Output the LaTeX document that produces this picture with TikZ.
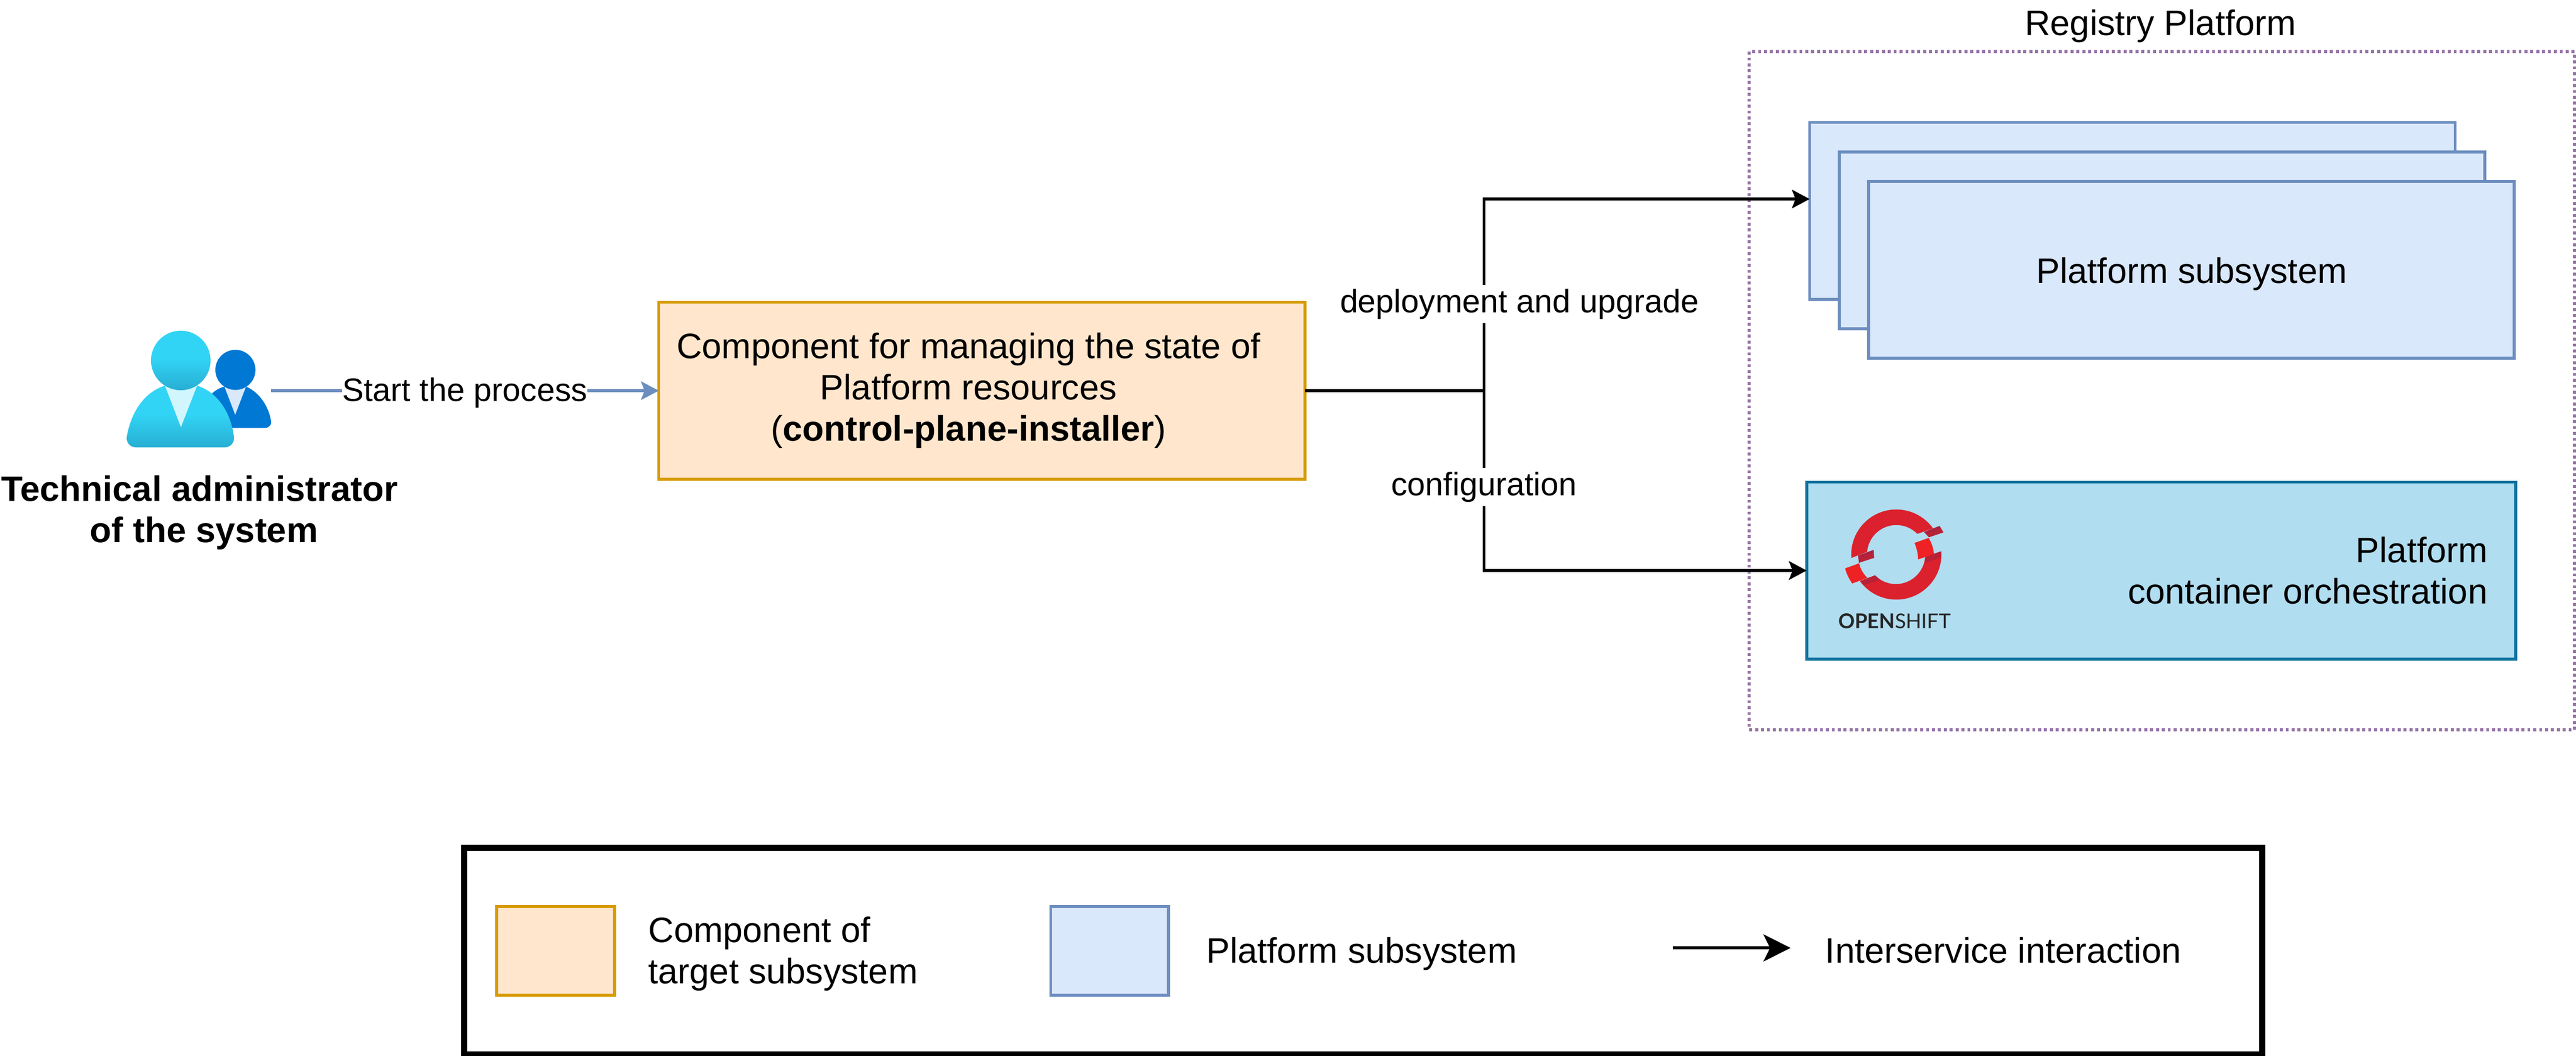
\documentclass[tikz,border=0pt]{standalone}
\usepackage{fontspec}
\setmainfont{Liberation Sans}
\newfontfamily\logofont{Lato}
\usetikzlibrary{arrows.meta}

\definecolor{planefill}{HTML}{FFE6CC}
\definecolor{planeline}{HTML}{D79B00}
\definecolor{subsysfill}{HTML}{DAE8FC}
\definecolor{subsysline}{HTML}{6C8EBF}
\definecolor{orchfill}{HTML}{B1DDF0}
\definecolor{orchline}{HTML}{10739E}
\definecolor{registryline}{HTML}{9673A6}
\definecolor{iconlight}{HTML}{32D4F5}
\definecolor{icondark}{HTML}{27AED3}
\definecolor{iconblue}{HTML}{0078D4}
\definecolor{ringred}{HTML}{DB212E}
\definecolor{ringbright}{HTML}{EE2225}
\definecolor{ringband}{HTML}{B92236}
\definecolor{ringdark}{HTML}{A9233F}
\pgfdeclareverticalshading{iconfade}{100bp}{color(0bp)=(icondark); color(25bp)=(icondark); color(52bp)=(iconlight); color(100bp)=(iconlight)}

\tikzset{
  every node/.style={font=\fontsize{9}{10.5}\selectfont,inner sep=0pt,outer sep=0pt},
  planebox/.style={draw=planeline,fill=planefill,line width=0.75pt},
  subsysbox/.style={draw=subsysline,fill=subsysfill,line width=0.75pt,minimum width=164.25pt,minimum height=45pt},
  orchbox/.style={draw=orchline,fill=orchfill,line width=0.75pt,minimum width=180.4pt,minimum height=45pt},
  keybox/.style={line width=0.75pt,minimum width=30pt,minimum height=22.5pt},
  flowline/.style={line width=0.75pt,-{Stealth[length=4.5pt,width=4.7pt,inset=0.9pt]}},
  flowlabel/.style={fill=white,minimum height=9.75pt,anchor=base,font=\fontsize{8.25}{10}\selectfont},
}

\begin{document}
\begin{tikzpicture}[x=0.75pt,y=0.75pt,yscale=-1,xscale=1]
\useasboundingbox (0,0) rectangle (874,358);

% Registry frame
\node [draw=registryline,line width=0.75pt,dash pattern=on 0.75pt off 0.75pt,minimum width=210pt,minimum height=172.5pt] (registry) at (733.5,132.5) {};
\node [anchor=base] (registrytitle) at (733,12) {Registry Platform};

% Subsystem stack
\node [subsysbox] (subsysback) at (723.5,71.5) {};
\node [subsysbox] (subsysmid) at (733.5,81.5) {};
\node [subsysbox] (subsysfront) at (743.5,91.5) {};
\node [anchor=base] (subsystext) at (743.6,96) {Platform subsystem};
\coordinate (subsysin) at (614,67.5);

% Orchestration
\node [orchbox] (orchestration) at (733.25,193.5) {};
\node [anchor=east,align=right] (orchtext) at (844,193.5) {Platform\\container orchestration};

% Logo ring
\fill [ringred] (628.13,189.24) arc[start angle=175.7,end angle=324.5,radius=15.3] -- (650.51,181.07) arc[start angle=315.7,end angle=185,radius=9.95] -- cycle;
\fill [ringred] (658.64,187) arc[start angle=-4,end angle=143.7,radius=15.3] -- (636.16,195.13) arc[start angle=135.4,end angle=4,radius=9.95] -- cycle;
\fill [ringband] (652.81,180.45) -- (658.07,178.39) -- (659.41,180.58) -- (654.43,182.23) -- cycle;
\fill [ringdark] (652.81,180.45) -- (658.07,178.39) -- (658.45,179.2) -- (653.38,181) -- cycle;
\fill [ringband] (630.42,188.44) -- (635.68,186.52) -- (635.88,189.2) -- (630.71,190.89) -- cycle;
\fill [ringdark] (630.42,188.44) -- (635.68,186.52) -- (635.78,187.46) -- (630.52,189.24) -- cycle;
\fill [ringband] (653.29,188.8) -- (658.64,186.96) -- (658.64,189.02) -- (653.1,191.03) -- cycle;
\fill [ringband] (631.09,197.05) -- (636.16,195.13) -- (637.88,196.61) -- (632.53,198.48) -- cycle;
\fill [ringbright] (649.56,184.15) -- (654.34,182.46) .. controls (655.4,184.2) and (656,186) .. (656.16,187.9) -- (650.8,189.73) .. controls (650.7,187.7) and (650.3,185.9) .. (649.56,184.15) -- cycle;
\fill [ringbright] (626.02,192.77) -- (630.8,191.03) .. controls (631.1,192.8) and (632.1,194.6) .. (633.58,195.98) -- (628.41,197.9) .. controls (627.3,196.2) and (626.4,194.5) .. (626.02,192.77) -- cycle;
\node [anchor=base,text=black!85] (logotext) at (642.8,213.2) {\logofont\fontsize{5.2}{6}\selectfont\textbf{OPEN}SHIFT};

% Control plane
\node [planebox,minimum width=164.4pt,minimum height=45pt] (plane) at (333.1,132.5) {};
\node [align=center] (planetext) at (328.6,132.5) {Component for managing the state of\\Platform resources\\(\textbf{control-plane-installer})};

% Administrator icon
\fill [iconblue] (76.13,131.1) -- (83.47,131.1) .. controls (88,133) and (91.3,138) .. (92,143.06) .. controls (92.1,144.3) and (91,145.16) .. (89.84,145.16) -- (72,145.16) -- (70,136) .. controls (71,134) and (73,132) .. (76.13,131.1) -- cycle;
\fill [subsysfill] (76.13,131.1) -- (79.8,140.67) -- (83.47,131.1) -- cycle;
\fill [iconblue] (79.87,125.45) circle [radius=6.8];
\shade [shading=iconfade] (55.96,130.8) .. controls (47.5,133.5) and (44,142) .. (42.97,148.44) .. controls (42.9,150.3) and (44.3,151.73) .. (46.16,151.73) -- (76.29,151.73) .. controls (78,151.73) and (79.5,150.3) .. (79.4,148.44) .. controls (78.7,142) and (75.2,133.5) .. (66.88,130.8) -- cycle;
\fill [iconlight!22] (55.96,130.8) -- (61.38,144.86) -- (66.88,130.8) -- cycle;
\shade [shading=iconfade] (61.34,122.25) circle [radius=10.1];
\node [anchor=base,font=\fontsize{9}{10.5}\selectfont\bfseries] (admintext) at (67.7,170) {Technical administrator};
\node [anchor=base,font=\fontsize{9}{10.5}\selectfont\bfseries] (admintextb) at (69.2,184) {of the system};
\coordinate (adminout) at (92,132.5);

% Connectors
\draw [flowline,draw=subsysline,fill=subsysline] (adminout) -- (plane.west);
\coordinate (branch) at (503.5,132.5);
\draw [line width=0.75pt] (plane.east) -- (branch);
\draw [flowline] (branch) |- (subsysin);
\draw [flowline] (branch) |- (orchestration.west);
\node [flowlabel] (startlabel) at (157.7,136) {Start the process};
\node [flowlabel] (deploylabel) at (515.5,106) {deployment and upgrade};
\node [flowlabel] (configlabel) at (503.5,168) {configuration};

% Legend
\node [draw=black,line width=1.5pt,minimum width=457.5pt,minimum height=52.5pt] (legend) at (462.5,322.5) {};
\node [keybox,draw=planeline,fill=planefill] (keyplane) at (188.5,322.5) {};
\node [anchor=west,align=left] (keyplanetext) at (220,323.5) {Component of\\target subsystem};
\node [keybox,draw=subsysline,fill=subsysfill] (keysubsys) at (376.5,322.5) {};
\node [anchor=base west] (keysubsystext) at (409.3,326.6) {Platform subsystem};
\coordinate (keyfrom) at (567.5,321.5);
\coordinate (keyto) at (607.5,321.5);
\draw [line width=0.75pt,-{Stealth[length=6.9pt,width=6.9pt,inset=1.7pt]}] (keyfrom) -- (keyto);
\node [anchor=base west] (keyflowtext) at (619.3,326.6) {Interservice interaction};

\end{tikzpicture}
\end{document}
